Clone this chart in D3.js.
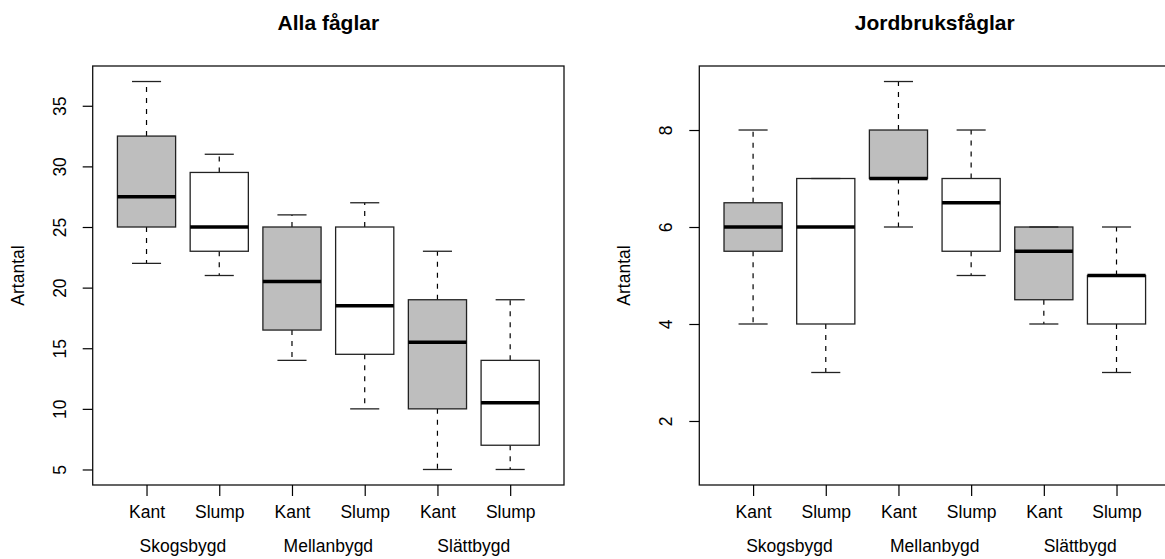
<!DOCTYPE html>
<html>
<head>
<meta charset="utf-8">
<script src="https://cdn.jsdelivr.net/npm/d3@7"></script>
<style>
  body { margin: 0; background: #fff; }
  svg { display: block; font-family: "Liberation Sans", Arial, sans-serif; }
  .tick text { font-size: 17.5px; fill: #000; }
  .tick line { stroke: #000; stroke-width: 1.2; }
</style>
</head>
<body>
<div id="chart"></div>
<script>
// categories
const groups = ['Skogsbygd', 'Mellanbygd', 'Slättbygd'];
const treatments = ['Kant', 'Slump'];
const boxFill = ['#bebebe', '#ffffff'];

// Alla fåglar: one value per box (Skog Kant, Skog Slump, Mellan Kant, ...)
const allaLow = [22, 21, 14, 10, 5, 5];
const allaQ1 = [25, 23, 16.5, 14.5, 10, 7];
const allaMedian = [27.5, 25, 20.5, 18.5, 15.5, 10.5];
const allaQ3 = [32.5, 29.5, 25, 25, 19, 14];
const allaHigh = [37, 31, 26, 27, 23, 19];
const allaTicks = [5, 10, 15, 20, 25, 30, 35];

// Jordbruksfåglar
const jordLow = [4, 3, 6, 5, 4, 3];
const jordQ1 = [5.5, 4, 7, 5.5, 4.5, 4];
const jordMedian = [6, 6, 7, 6.5, 5.5, 5];
const jordQ3 = [6.5, 7, 8, 7, 6, 5];
const jordHigh = [8, 7, 9, 8, 6, 6];
const jordTicks = [2, 4, 6, 8];
const jordRange = [1, 9];

const W = 1165;
const H = 559;

const svg = d3.select('#chart')
  .append('svg')
  .attr('width', W)
  .attr('height', H);

function zip(low, q1, med, q3, high) {
  return low.map((d, i) => ({
    pos: i + 1,
    low: d,
    q1: q1[i],
    med: med[i],
    q3: q3[i],
    high: high[i]
  }));
}

function drawPanel({ left, right, top, bottom, title, data, ticks, range }) {
  const g = svg.append('g');
  const n = data.length;
  // R style: xlim 0.5..n+0.5, extended 4%
  const xlo = 0.5 - n * 0.04;
  const xhi = n + 0.5 + n * 0.04;
  const x = d3.scaleLinear().domain([xlo, xhi]).range([left, right]);
  const ext = (range[1] - range[0]) * 0.04;
  const y = d3.scaleLinear()
    .domain([range[0] - ext, range[1] + ext])
    .range([bottom, top]);

  const half = 0.4;
  const capHalf = 0.2;

  const box = g.selectAll('.bp').data(data).join('g').attr('class', 'bp');

  // whiskers (dashed)
  box.append('line')
    .attr('x1', (d) => x(d.pos)).attr('x2', (d) => x(d.pos))
    .attr('y1', (d) => y(d.q3)).attr('y2', (d) => y(d.high))
    .attr('stroke', '#000').attr('stroke-width', 1.2)
    .attr('stroke-dasharray', '5,6');
  box.append('line')
    .attr('x1', (d) => x(d.pos)).attr('x2', (d) => x(d.pos))
    .attr('y1', (d) => y(d.q1)).attr('y2', (d) => y(d.low))
    .attr('stroke', '#000').attr('stroke-width', 1.2)
    .attr('stroke-dasharray', '5,6');

  // boxes
  box.append('rect')
    .attr('x', (d) => x(d.pos - half))
    .attr('width', (d) => x(d.pos + half) - x(d.pos - half))
    .attr('y', (d) => y(d.q3))
    .attr('height', (d) => y(d.q1) - y(d.q3))
    .attr('fill', (d, i) => boxFill[i % 2])
    .attr('stroke', '#222').attr('stroke-width', 1.3);

  // medians
  box.append('line')
    .attr('x1', (d) => x(d.pos - half)).attr('x2', (d) => x(d.pos + half))
    .attr('y1', (d) => y(d.med)).attr('y2', (d) => y(d.med))
    .attr('stroke', '#000').attr('stroke-width', 3.6);

  // staples
  ['low', 'high'].forEach((k) => {
    box.append('line')
      .attr('x1', (d) => x(d.pos - capHalf)).attr('x2', (d) => x(d.pos + capHalf))
      .attr('y1', (d) => y(d[k])).attr('y2', (d) => y(d[k]))
      .attr('stroke', '#222').attr('stroke-width', 1.3);
  });

  // frame
  g.append('rect')
    .attr('x', left).attr('y', top)
    .attr('width', right - left).attr('height', bottom - top)
    .attr('fill', 'none').attr('stroke', '#111').attr('stroke-width', 1.3);

  // y axis
  const yAxis = d3.axisLeft(y).tickValues(ticks).tickSize(10).tickSizeOuter(0);
  const ya = g.append('g')
    .attr('transform', `translate(${left},0)`)
    .call(yAxis);
  ya.select('.domain').remove();
  ya.selectAll('.tick text')
    .attr('x', null)
    .attr('dy', '0.35em')
    .attr('text-anchor', 'middle')
    .attr('transform', 'translate(-33,0) rotate(-90)');

  // x axis
  const xAxis = d3.axisBottom(x)
    .tickValues(data.map((d) => d.pos))
    .tickFormat((d) => treatments[(d - 1) % 2])
    .tickSize(11)
    .tickSizeOuter(0);
  const xa = g.append('g')
    .attr('transform', `translate(0,${bottom})`)
    .call(xAxis);
  xa.select('.domain').remove();
  xa.selectAll('.tick text').attr('y', 33).attr('dy', null);

  // group labels
  g.selectAll('.grp').data(groups).join('text')
    .attr('class', 'grp')
    .attr('x', (d, i) => x(i * 2 + 1.5))
    .attr('y', 552)
    .attr('text-anchor', 'middle')
    .style('font-size', '17.5px')
    .text((d) => d);

  // y label
  g.append('text')
    .attr('transform', `translate(${left - 75},${(top + bottom) / 2}) rotate(-90)`)
    .attr('dy', '0.35em')
    .attr('text-anchor', 'middle')
    .style('font-size', '17.5px')
    .text('Artantal');

  // title
  g.append('text')
    .attr('x', (left + right) / 2)
    .attr('y', 30)
    .attr('text-anchor', 'middle')
    .style('font-size', '21px')
    .style('font-weight', 'bold')
    .text(title);
}

drawPanel({
  left: 92.7, right: 564, top: 66, bottom: 485,
  title: 'Alla fåglar',
  data: zip(allaLow, allaQ1, allaMedian, allaQ3, allaHigh),
  ticks: allaTicks,
  range: [d3.min(allaLow), d3.max(allaHigh)]
});

drawPanel({
  left: 699.3, right: 1170.3, top: 66, bottom: 485,
  title: 'Jordbruksfåglar',
  data: zip(jordLow, jordQ1, jordMedian, jordQ3, jordHigh),
  ticks: jordTicks,
  range: jordRange
});
</script>
</body>
</html>
